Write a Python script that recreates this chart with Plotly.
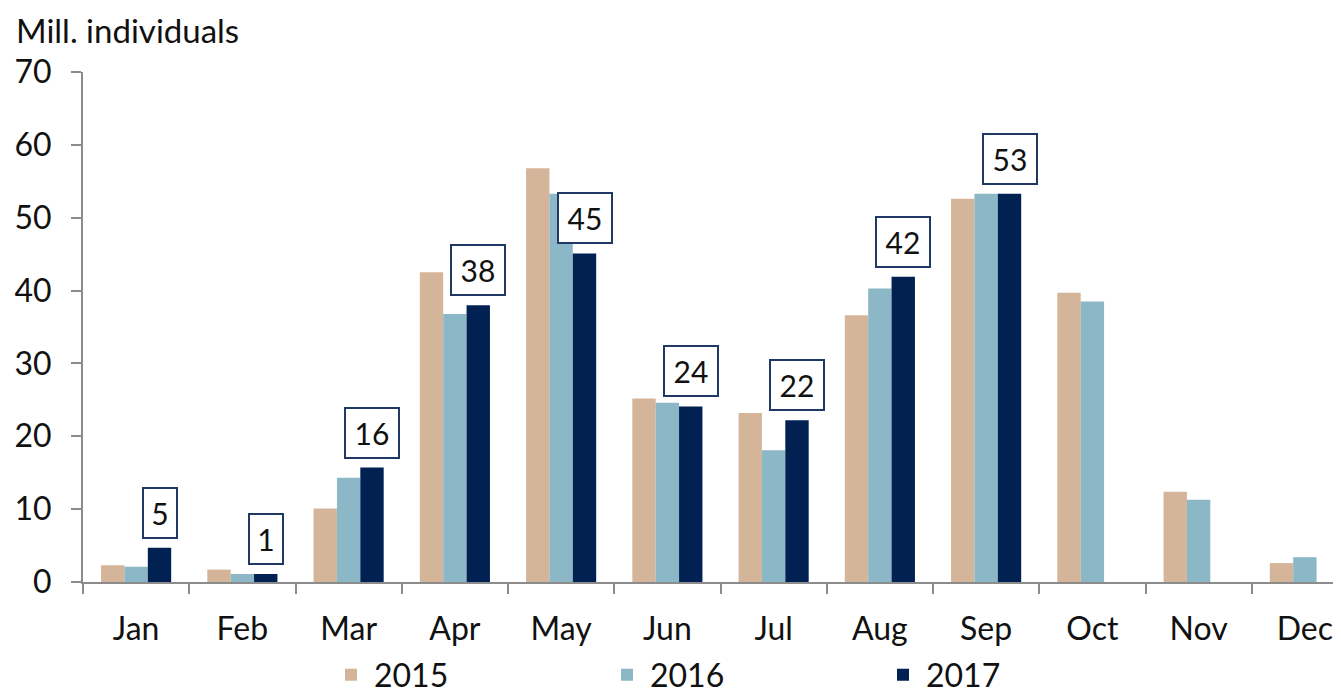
import plotly.graph_objects as go

MONTHS = ["Jan", "Feb", "Mar", "Apr", "May", "Jun",
          "Jul", "Aug", "Sep", "Oct", "Nov", "Dec"]
YEARS = ["2015", "2016", "2017"]

# Mill. individuals per month
VALUES_2015 = [2.3, 1.7, 10.1, 42.5, 56.8, 25.2, 23.2, 36.6, 52.6, 39.7, 12.4, 2.6]
VALUES_2016 = [2.1, 1.1, 14.3, 36.8, 53.3, 24.6, 18.1, 40.3, 53.3, 38.5, 11.3, 3.4]
VALUES_2017 = [4.7, 1.1, 15.7, 38.0, 45.1, 24.1, 22.2, 41.9, 53.3, None, None, None]

COLORS = ["#D4B599", "#8BB7C6", "#002152"]
FONT = "Lato"
TEXT = "#111111"
AXIS = "#8c8c8c"

# the page body adds an 8px margin, so the figure is 8px smaller
W, H = 1333, 687
M_L, M_R, M_T, M_B = 75, 0, 64, 113
X_RANGE = [-0.5, 11.34]
BARGAP = 0.34

fig = go.Figure()
for year, vals, col in zip(YEARS, [VALUES_2015, VALUES_2016, VALUES_2017], COLORS):
    fig.add_trace(go.Bar(name=year, x=MONTHS, y=vals, marker_color=col,
                         marker_line_width=0))

# boxed labels above the 2017 bars
px_per_cat = (W - M_L - M_R) / (X_RANGE[1] - X_RANGE[0])
slot = (1 - BARGAP) / len(YEARS)
for m, v in zip(MONTHS, VALUES_2017):
    if v is None:
        continue
    label = f"{v:.0f}"
    fig.add_annotation(x=m, y=v, xref="x", yref="y", text=label,
                       showarrow=False, yanchor="bottom", yshift=9,
                       xshift=slot * px_per_cat,
                       width=20 * len(label) - 2, height=34,
                       font=dict(family=FONT, size=30, color=TEXT),
                       bgcolor="white", bordercolor="#1F3864",
                       borderwidth=2, borderpad=7)

# axis unit label in the top-left corner
fig.add_annotation(text="Mill. individuals", xref="paper", yref="paper",
                   x=(6 - M_L) / (W - M_L - M_R),
                   y=1 + M_T / (H - M_T - M_B),
                   xanchor="left", yanchor="top", showarrow=False,
                   font=dict(family=FONT, size=33, color=TEXT))

fig.update_layout(
    width=W, height=H,
    margin=dict(l=M_L, r=M_R, t=M_T, b=M_B, autoexpand=False),
    plot_bgcolor="white", paper_bgcolor="white",
    barmode="group", bargap=BARGAP, bargroupgap=0,
    font=dict(family=FONT, size=32, color=TEXT),
    legend=dict(orientation="h", xref="container", yref="container",
                x=320 / W, xanchor="left", y=1 - 667 / H,
                yanchor="middle", entrywidth=225, entrywidthmode="pixels",
                font=dict(family=FONT, size=32, color=TEXT),
                itemwidth=36, traceorder="normal"),
)
fig.update_xaxes(range=X_RANGE, showline=True, linecolor=AXIS, linewidth=2,
                 ticks="outside", tickson="boundaries", ticklen=10,
                 tickcolor=AXIS, tickwidth=2, ticklabelstandoff=18,
                 showgrid=False, automargin=False)
fig.update_yaxes(range=[0, 70], dtick=10, showline=True, linecolor=AXIS,
                 linewidth=2, ticks="outside", ticklen=10, tickcolor=AXIS,
                 tickwidth=2, ticklabelstandoff=13, showgrid=False,
                 zeroline=False, automargin=False)

fig.write_html("out.html")
